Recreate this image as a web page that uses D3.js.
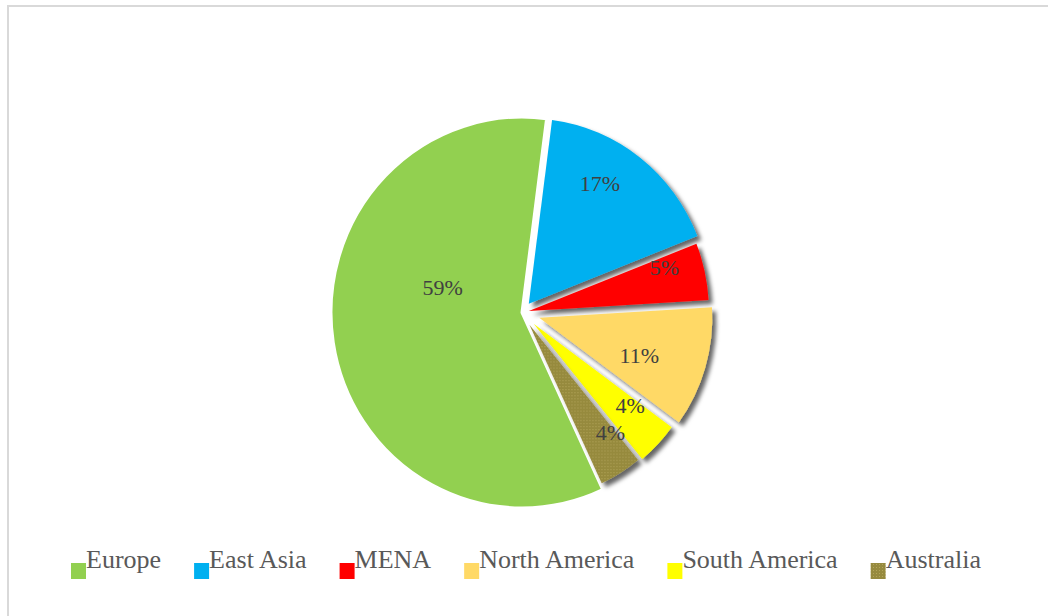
<!DOCTYPE html>
<html>
<head>
<meta charset="utf-8">
<script src="https://cdn.jsdelivr.net/npm/d3@7"></script>
<style>
  html, body { margin: 0; padding: 0; background: #ffffff; }
  svg { display: block; }
</style>
</head>
<body>
<svg id="chart" width="1048" height="616"></svg>
<script>
// Regional shares (%)
const categories = ["Europe", "East Asia", "MENA", "North America", "South America", "Australia"];
const shares = [59, 17, 5, 11, 4, 4];
const shareLabels = shares.map(v => v + "%");

// Slice styling
const sliceColors = ["#92d050", "#00b0f0", "#ff0000", "#ffd966", "#ffff00", "url(#ausDots)"];
const explodeBy = [0, 11, 7, 18, 16, 14];          // outward offset along each slice's bisector
const sliceRadius = [191, 181, 180, 173, 171, 171];
const labelRadiusFrac = [0.435, 0.818, 0.828, 0.721, 0.826, 0.858];
const labelAngleShift = [26.3, -6.2, -4.8, 3.4, -3.4, -4.9]; // degrees
const firstSliceAngle = 155;                        // degrees, clockwise from 12 o'clock

const W = 1048, H = 616;
const cx = 522, cy = 312.5, yStretch = 1.0236;
const rad = d => d * Math.PI / 180;

const svg = d3.select("#chart");
const defs = svg.append("defs");

// dotted olive fill
const pat = defs.append("pattern")
  .attr("id", "ausDots").attr("patternUnits", "userSpaceOnUse")
  .attr("width", 3).attr("height", 3);
pat.append("rect").attr("width", 3).attr("height", 3).attr("fill", "#968a3e");
pat.append("rect").attr("x", 0).attr("y", 0).attr("width", 1).attr("height", 1).attr("fill", "#b3a559");

// soft drop shadow
const f = defs.append("filter").attr("id", "shadow")
  .attr("x", "-20%").attr("y", "-20%").attr("width", "140%").attr("height", "140%");
f.append("feGaussianBlur").attr("in", "SourceAlpha").attr("stdDeviation", 2.2).attr("result", "b");
f.append("feOffset").attr("in", "b").attr("dx", 3.5).attr("dy", 4).attr("result", "o");
f.append("feFlood").attr("flood-color", "#000").attr("flood-opacity", 0.6).attr("result", "c");
f.append("feComposite").attr("in", "c").attr("in2", "o").attr("operator", "in").attr("result", "s");
const m = f.append("feMerge");
m.append("feMergeNode").attr("in", "s");
m.append("feMergeNode").attr("in", "SourceGraphic");

// chart frame
svg.append("rect")
  .attr("x", 8).attr("y", 6).attr("width", W + 10).attr("height", H + 10)
  .attr("fill", "#ffffff").attr("stroke", "#d9d9d9").attr("stroke-width", 2);

const pie = d3.pie().sort(null).value(d => d)
  .startAngle(rad(firstSliceAngle))
  .endAngle(rad(firstSliceAngle) + 2 * Math.PI);
const arcs = pie(shares);

const g = svg.append("g")
  .attr("transform", `translate(${cx},${cy}) scale(1,${yStretch})`);

g.selectAll("path.slice")
  .data(arcs)
  .join("path")
  .attr("class", "slice")
  .attr("d", (d, i) => d3.arc().innerRadius(0).outerRadius(sliceRadius[i])(d))
  .attr("transform", (d, i) => {
    const a = (d.startAngle + d.endAngle) / 2;
    return `translate(${explodeBy[i] * Math.sin(a)},${-explodeBy[i] * Math.cos(a)})`;
  })
  .attr("fill", (d, i) => sliceColors[i])
  // only the large, unexploded slice carries a white border
  .attr("stroke", (d, i) => i === 0 ? "#ffffff" : "none")
  .attr("stroke-width", 3)
  .attr("stroke-linejoin", "round")
  .attr("filter", (d, i) => i === 0 ? null : "url(#shadow)");

// percentage labels
svg.append("g").selectAll("text")
  .data(arcs)
  .join("text")
  .attr("x", (d, i) => {
    const a = (d.startAngle + d.endAngle) / 2 + rad(labelAngleShift[i]);
    return cx + labelRadiusFrac[i] * sliceRadius[i] * Math.sin(a);
  })
  .attr("y", (d, i) => {
    const a = (d.startAngle + d.endAngle) / 2 + rad(labelAngleShift[i]);
    return cy - labelRadiusFrac[i] * sliceRadius[i] * Math.cos(a) * yStretch;
  })
  .attr("dy", "0.35em")
  .attr("text-anchor", "middle")
  .attr("font-family", "'Liberation Serif', 'Times New Roman', serif")
  .attr("font-size", 22)
  .attr("fill", "#404040")
  .text((d, i) => shareLabels[i]);

// legend
const legend = svg.append("g");
let lx = 71;
const legendGap = 33;
categories.forEach((name, i) => {
  legend.append("rect")
    .attr("x", lx).attr("y", 563).attr("width", 15).attr("height", 16)
    .attr("fill", sliceColors[i]);
  const t = legend.append("text")
    .attr("x", lx + 15).attr("y", 568)
    .attr("font-family", "'Liberation Serif', 'Times New Roman', serif")
    .attr("font-size", 26)
    .attr("fill", "#595959")
    .text(name);
  lx += 15 + t.node().getComputedTextLength() + legendGap;
});
</script>
</body>
</html>
